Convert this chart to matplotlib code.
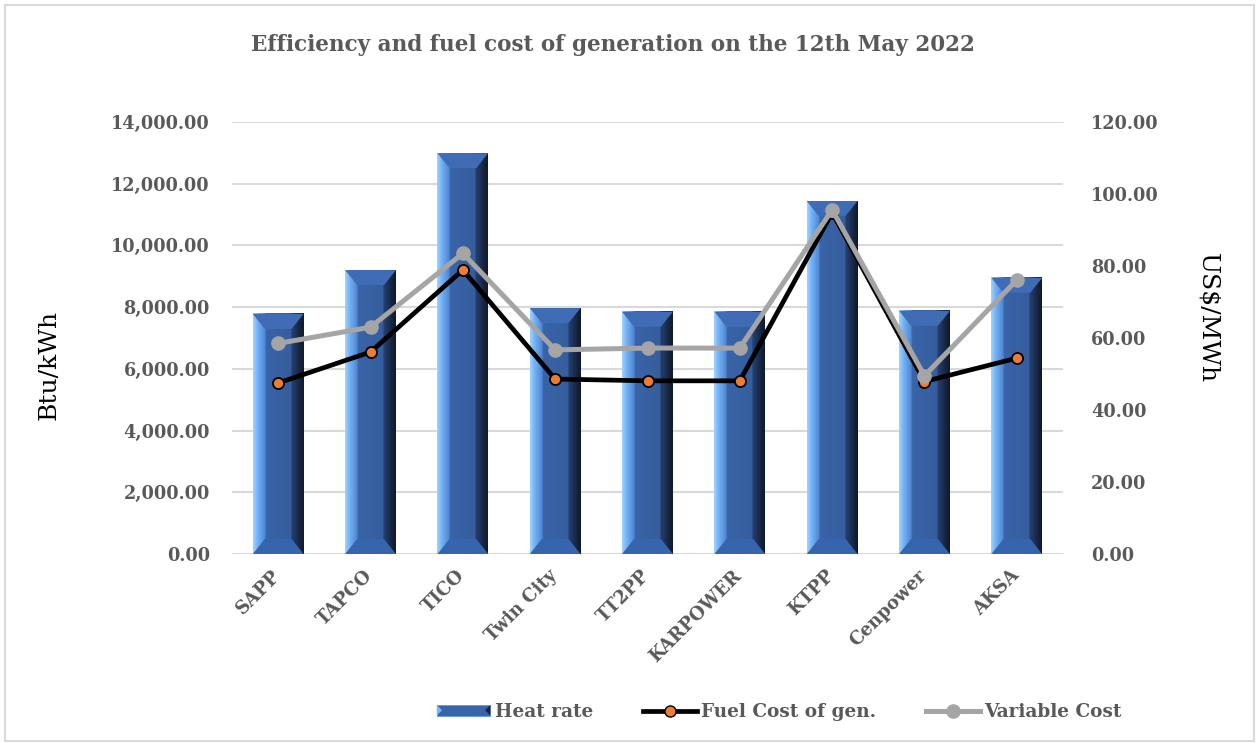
import numpy as np
import matplotlib
matplotlib.use("Agg")
import matplotlib.pyplot as plt
from matplotlib.patches import Polygon, Rectangle
from matplotlib.lines import Line2D
from matplotlib.colors import LinearSegmentedColormap
from matplotlib.legend_handler import HandlerBase
from matplotlib.transforms import ScaledTranslation

# ---- data ----
plants = ["SAPP", "TAPCO", "TICO", "Twin City", "TT2PP", "KARPOWER", "KTPP", "Cenpower", "AKSA"]
heat_rate = [7780, 9200, 12990, 7970, 7850, 7850, 11440, 7880, 8950]
fuel_cost = [47.5, 56.1, 78.9, 48.6, 48.1, 48.1, 94.8, 47.9, 54.4]
variable_cost = [58.5, 63.0, 83.5, 56.7, 57.2, 57.2, 95.6, 49.5, 76.1]
left_ticks = [0, 2000, 4000, 6000, 8000, 10000, 12000, 14000]
right_ticks = [0, 20, 40, 60, 80, 100, 120]

TXT = "#595959"
FONT = "DejaVu Serif"
plt.rcParams["font.family"] = FONT

fig = plt.figure(figsize=(12.59, 7.43), dpi=100)
ax = fig.add_axes([0.1843, 0.2544, 0.6600, 0.5814])
ax2 = ax.twinx()

x = np.arange(len(plants))
bw = 0.55
bars = ax.bar(x, heat_rate, width=bw, color="none", edgecolor="none", zorder=2)
ax.set_xlim(-0.5, len(plants) - 0.5)
ax.set_ylim(0, 14000)

# bevel rendering
ax_w_px = 0.66 * 1259
ax_h_px = 0.5814 * 743
bev_x, bev_y = 12, 15
dx = bev_x * len(plants) / ax_w_px
dy = bev_y * 14000 / ax_h_px
f = dx / bw
prof = LinearSegmentedColormap.from_list(
    "bev",
    [(0.0, "#9fd2ff"), (0.4 * f, "#72b0f5"), (f, "#4f86d2"), (f + 0.02, "#3a64a8"),
     (1 - f - 0.02, "#365e9e"), (1 - f, "#253f70"), (1 - 0.5 * f, "#1a2b4c"), (1.0, "#0f192b")])
grad = np.linspace(0, 1, 300)[None, :]
for b in bars:
    x0, w, h = b.get_x(), b.get_width(), b.get_height()
    ax.imshow(grad, cmap=prof, extent=(x0, x0 + w, 0, h), aspect="auto",
              interpolation="bilinear", zorder=2)
    ax.add_patch(Polygon([(x0, h), (x0 + w, h), (x0 + w - dx, h - dy), (x0 + dx, h - dy)],
                         closed=True, facecolor="#3f6cb4", edgecolor="none", zorder=2.1))
    ax.add_patch(Polygon([(x0, 0), (x0 + w, 0), (x0 + w - dx, dy), (x0 + dx, dy)],
                         closed=True, facecolor="#3765ad", edgecolor="none", zorder=2.1))
ax.set_xlim(-0.5, len(plants) - 0.5)
ax.set_ylim(0, 14000)

ax.set_yticks(left_ticks)
ax.set_yticklabels([f"{v:,.2f}" for v in left_ticks])
ax.grid(axis="y", color="#d9d9d9", lw=1.5, zorder=0)
ax.set_axisbelow(True)
ax.tick_params(axis="both", length=0, colors=TXT, labelsize=12.7)
ax.tick_params(axis="y", pad=16)
ax.set_xticks(x)
ax.set_xticklabels(plants, rotation=45, ha="right", rotation_mode="anchor", fontweight="bold",
                   fontsize=13)
ax.tick_params(axis="x", pad=9)
shift = ScaledTranslation(-5 / 72, 0, fig.dpi_scale_trans)
for lab in ax.get_xticklabels():
    lab.set_transform(lab.get_transform() + shift)
for lab in ax.get_yticklabels():
    lab.set_fontweight("bold")
for s in ax.spines.values():
    s.set_visible(False)
for s in ax2.spines.values():
    s.set_visible(False)

ax.set_ylabel("Btu/kWh", fontsize=18, color="black", va="center")
ax.yaxis.set_label_coords(-0.220, 0.4375)

# lines
ax2.plot(x, fuel_cost, color="black", lw=3.4, marker="o", markersize=8,
         markerfacecolor="#ed7d31", markeredgecolor="black", markeredgewidth=1.3, zorder=3)
ax2.plot(x, variable_cost, color="#a5a5a5", lw=3.6, marker="o", markersize=9.5,
         markerfacecolor="#a5a5a5", markeredgecolor="#a5a5a5", zorder=4)
ax2.set_ylim(0, 120)
ax2.set_yticks(right_ticks)
ax2.set_yticklabels([f"{v:.2f}" for v in right_ticks])
ax2.tick_params(axis="y", length=0, colors=TXT, labelsize=12.7, pad=20)
for lab in ax2.get_yticklabels():
    lab.set_fontweight("bold")
ax2.set_ylabel("US$/MWh", fontsize=18, color="black", rotation=270, va="center")
ax2.yaxis.set_label_coords(1.1745, 0.546)

fig.text(0.487, 0.939, "Efficiency and fuel cost of generation on the 12th May 2022",
         ha="center", va="center", fontsize=15.5, fontweight="bold", color=TXT)


class BevelHandler(HandlerBase):
    def create_artists(self, legend, orig_handle, xdescent, ydescent, width, height,
                       fontsize, trans):
        x0, y0 = -xdescent, -ydescent
        t = min(height * 0.5, width * 0.15)
        base = Rectangle((x0, y0), width, height, facecolor="#3a64a8", edgecolor="#5f9ae6",
                         lw=0.6, transform=trans)
        left = Polygon([(x0, y0), (x0 + t, y0 + height / 2), (x0, y0 + height)],
                       closed=True, facecolor="#7ab8f8", edgecolor="none", transform=trans)
        right = Polygon([(x0 + width, y0), (x0 + width - t, y0 + height / 2),
                         (x0 + width, y0 + height)],
                        closed=True, facecolor="#15223c", edgecolor="none", transform=trans)
        return [base, left, right]


handles = [
    Rectangle((0, 0), 1, 1),
    Line2D([], [], color="black", lw=3.4, marker="o", markersize=8,
           markerfacecolor="#ed7d31", markeredgecolor="black"),
    Line2D([], [], color="#a5a5a5", lw=3.6, marker="o", markersize=9.5,
           markerfacecolor="#a5a5a5", markeredgecolor="#a5a5a5"),
]
fig.legend(handles, ["Heat rate", "Fuel Cost of gen.", "Variable Cost"],
           loc="center", bbox_to_anchor=(0.619, 0.042), ncol=3, frameon=False,
           prop={"family": FONT, "weight": "bold", "size": 13.3}, labelcolor=TXT,
           handlelength=2.9, handleheight=0.5, handletextpad=0.25, columnspacing=2.7,
           handler_map={Rectangle: BevelHandler()})

fig.patches.append(Rectangle((0.004, 0.003), 0.992, 0.99, transform=fig.transFigure,
                             fill=False, edgecolor="#d9d9d9", lw=1.5))

fig.savefig("out.png", dpi=100, facecolor="white")
